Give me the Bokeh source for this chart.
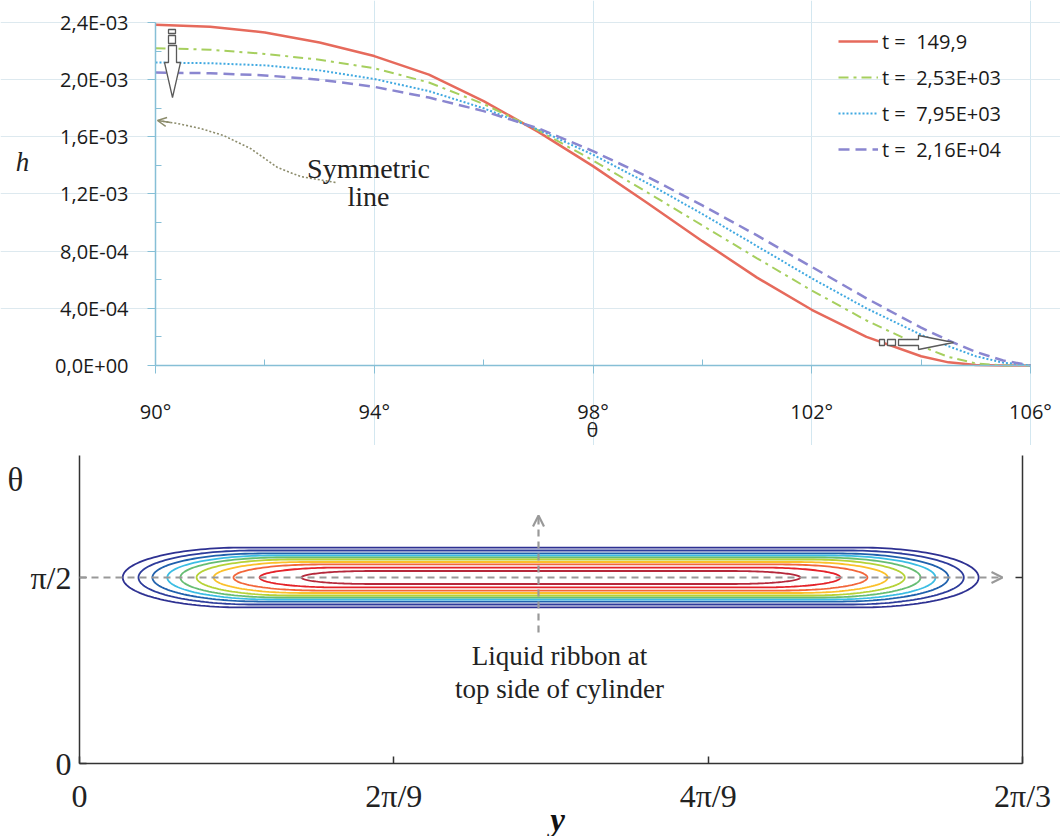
import numpy as np
from bokeh.plotting import figure
from bokeh.layouts import column
from bokeh.models import (Range1d, FixedTicker, LinearAxis, Label, Legend, LegendItem,
                          Arrow, OpenHead, CustomJSTickFormatter)
from bokeh.embed import file_html
from bokeh.resources import INLINE

# ---------------- data: top chart (h vs theta) ----------------
theta_deg = [90, 91, 92, 93, 94, 95, 96, 97, 98, 99, 100, 101, 102, 103, 104, 104.5, 105, 105.5, 106]
h_t149 = [2.385e-3, 2.37e-3, 2.33e-3, 2.26e-3, 2.165e-3, 2.035e-3, 1.85e-3, 1.635e-3, 1.395e-3, 1.135e-3,
          0.87e-3, 0.615e-3, 0.39e-3, 0.20e-3, 0.065e-3, 0.022e-3, 0.004e-3, 0.0, 0.0]
h_t2530 = [2.22e-3, 2.21e-3, 2.18e-3, 2.14e-3, 2.08e-3, 1.98e-3, 1.83e-3, 1.645e-3, 1.435e-3, 1.21e-3,
           0.98e-3, 0.75e-3, 0.525e-3, 0.315e-3, 0.135e-3, 0.06e-3, 0.015e-3, 0.0, 0.0]
h_t7950 = [2.12e-3, 2.115e-3, 2.10e-3, 2.065e-3, 2.005e-3, 1.92e-3, 1.80e-3, 1.65e-3, 1.475e-3, 1.275e-3,
           1.06e-3, 0.835e-3, 0.61e-3, 0.40e-3, 0.215e-3, 0.135e-3, 0.065e-3, 0.02e-3, 0.0]
h_t21600 = [2.05e-3, 2.045e-3, 2.03e-3, 2.0e-3, 1.95e-3, 1.875e-3, 1.78e-3, 1.66e-3, 1.50e-3, 1.32e-3,
            1.12e-3, 0.91e-3, 0.69e-3, 0.47e-3, 0.265e-3, 0.175e-3, 0.095e-3, 0.035e-3, 0.0]
series_labels = ["t =  149,9", "t =  2,53E+03", "t =  7,95E+03", "t =  2,16E+04"]

x_ticks = [90, 94, 98, 102, 106]
x_minor = [92, 96, 100, 104]
x_tick_labels = ["90°", "94°", "98°", "102°", "106°"]
h_ticks = [0.0, 0.0004, 0.0008, 0.0012, 0.0016, 0.002, 0.0024]
h_minor = [0.0002, 0.0006, 0.001, 0.0014, 0.0018, 0.0022]
h_tick_labels = ["0,0E+00", "4,0E-04", "8,0E-04", "1,2E-03", "1,6E-03", "2,0E-03", "2,4E-03"]

# ---------------- data: bottom chart (contours of the ribbon) ----------------
PI = np.pi
y_ticks = [0, 2 * PI / 9, 4 * PI / 9, 2 * PI / 3]
y_tick_labels = ["0", "2π/9", "4π/9", "2π/3"]
th_ticks = [0, PI / 2]
th_tick_labels = ["0", "π/2"]
# contour levels, outer -> inner: left end, right end (y, rad), half-height (theta, rad), cap length (rad)
ribbon_left = [0.096, 0.131, 0.162, 0.195, 0.224, 0.260, 0.298, 0.342, 0.400, 0.493]
ribbon_right = [1.997, 1.964, 1.930, 1.901, 1.868, 1.833, 1.795, 1.750, 1.690, 1.601]
ribbon_half = [0.253, 0.228, 0.203, 0.186, 0.169, 0.152, 0.131, 0.110, 0.084, 0.055]
ribbon_cap = [0.267, 0.255, 0.244, 0.233, 0.222, 0.211, 0.200, 0.189, 0.178, 0.155]
ribbon_colors = ["#2e3192", "#2d3c9b", "#2061ad", "#3bbde3", "#66bd73",
                 "#b6d236", "#fbc02a", "#f2663a", "#e42229", "#b5283b"]

# ---------------- layout geometry (page pixels) ----------------
W = 1060
H1 = 445
H2 = 391
TX0, TX_PER_DEG = 155.0, 54.6875        # 90 deg at x=155, 106 deg at x=1030
TY0, TY_PER_UNIT = 365.0, 142916.7      # h=0 at y=365, 2.4e-3 at y=22
BX0, BX_PER_RAD = 79.0, 943.0 / (2 * PI / 3)
BY0, BY_PER_RAD = 763.0, 186.0 / (PI / 2)


def tx(px):
    return 90 + (px - TX0) / TX_PER_DEG


def ty(py):
    return (TY0 - py) / TY_PER_UNIT


def bx(px):
    return (px - BX0) / BX_PER_RAD


def by(py):
    return (BY0 - py) / BY_PER_RAD


# ---------------- top figure ----------------
top = figure(width=W, height=H1, x_range=Range1d(tx(0), tx(W)), y_range=Range1d(ty(H1), ty(0)),
             output_backend="svg", toolbar_location=None,
             min_border_left=0, min_border_right=0, min_border_top=0, min_border_bottom=0)
top.outline_line_color = None
top.background_fill_color = "white"
top.border_fill_color = "white"

axis_blue = "#86bfd6"
top.xaxis.fixed_location = 0
top.xaxis.bounds = (90, 106)
top.yaxis.fixed_location = 90
top.yaxis.bounds = (0, 0.0024)
top.xaxis.ticker = FixedTicker(ticks=x_ticks, minor_ticks=x_minor)
top.xaxis.major_label_overrides = dict(zip(x_ticks, x_tick_labels))
top.yaxis.ticker = FixedTicker(ticks=h_ticks, minor_ticks=h_minor)
top.yaxis.major_label_overrides = dict(zip(h_ticks, h_tick_labels))
for ax in (top.xaxis[0], top.yaxis[0]):
    ax.axis_line_color = axis_blue
    ax.axis_line_width = 1.5
    ax.major_tick_line_color = axis_blue
    ax.minor_tick_line_color = axis_blue
    ax.major_tick_out = 8
    ax.major_tick_in = 0
    ax.minor_tick_in = 6
    ax.minor_tick_out = 0
    ax.major_label_text_font = "Open Sans"
    ax.major_label_text_font_size = "20px"
    ax.major_label_text_color = "#1a1a1a"
top.xaxis.major_label_standoff = 24
top.yaxis.major_label_standoff = 19
top.xgrid.ticker = FixedTicker(ticks=x_ticks[1:])
top.xgrid.bounds = (0, 0.0024)
top.ygrid.ticker = FixedTicker(ticks=h_ticks[1:])
top.ygrid.bounds = (90, 106)
top.xgrid.grid_line_color = "#d3e7f0"
top.ygrid.grid_line_color = "#dde9ef"

r1 = top.line(theta_deg, h_t149, line_color="#e66a5c", line_width=2.5)
r2 = top.line(theta_deg, h_t2530, line_color="#a6cf5e", line_width=2, line_dash="10 5 3 5")
r3 = top.line(theta_deg, h_t7950, line_color="#41a9e1", line_width=2, line_dash="2 2")
r4 = top.line(theta_deg, h_t21600, line_color="#8a86d0", line_width=2.5, line_dash="11 6")

legend = Legend(items=[LegendItem(label=lab, renderers=[r]) for lab, r in
                       zip(series_labels, [r1, r2, r3, r4])],
                location=(838, H1 - 167), padding=0, margin=0, spacing=0,
                label_height=36, glyph_height=36, glyph_width=40, label_standoff=4,
                label_text_font="Open Sans", label_text_font_size="20px",
                label_text_color="#1a1a1a", border_line_color=None, background_fill_alpha=0)
top.add_layout(legend)

ann_col = "#5a5a5a"
top.quad(left=[tx(168), tx(168)], right=[tx(175), tx(175)], top=[ty(29), ty(35)], bottom=[ty(33), ty(43)],
         fill_color="white", line_color=ann_col, line_width=1.3)
top.patch([tx(168), tx(176), tx(176), tx(180), tx(172), tx(164), tx(168)],
          [ty(45), ty(45), ty(62), ty(62), ty(97), ty(62), ty(62)],
          fill_color="white", line_color=ann_col, line_width=1.3)
top.quad(left=[tx(879), tx(887)], right=[tx(884), tx(895)], top=[ty(339), ty(339)], bottom=[ty(345), ty(345)],
         fill_color="white", line_color=ann_col, line_width=1.3)
top.patch([tx(898), tx(918), tx(918), tx(953), tx(918), tx(918), tx(898)],
          [ty(339), ty(339), ty(335), ty(342), ty(349), ty(345), ty(345)],
          fill_color="white", line_color=ann_col, line_width=1.3)

cx_px = [335, 300, 277, 250, 223, 200, 177, 157]
cy_px = [182, 176, 167, 148, 135, 128, 123, 120]
top.line([tx(v) for v in cx_px], [ty(v) for v in cy_px], line_color="#8c8c6c", line_width=1.6, line_dash="2 2")
top.add_layout(Arrow(x_start=tx(170), y_start=ty(122), x_end=tx(157), y_end=ty(120),
                     line_color="#8c8c6c", line_width=1.5,
                     end=OpenHead(size=9, line_color="#8c8c6c", line_width=1.5)))
for txt, py in (("Symmetric", 168), ("line", 196)):
    top.add_layout(Label(x=tx(368), y=ty(py), text=txt, text_align="center", text_baseline="middle",
                         text_font="Liberation Serif", text_font_size="28px", text_color="#222222"))
top.add_layout(Label(x=tx(22), y=ty(161), text="h", text_align="center", text_baseline="middle",
                     text_font="Liberation Serif", text_font_style="italic", text_font_size="27px",
                     text_color="#222222"))
top.add_layout(Label(x=tx(592), y=ty(429), text="θ", text_align="center", text_baseline="middle",
                     text_font="Open Sans", text_font_size="20px", text_color="#222222"))

# ---------------- bottom figure ----------------
# bottom figure's own pixel rows start at page y = H1
bot = figure(width=W, height=H2, x_range=Range1d(bx(0), bx(W)), y_range=Range1d(by(H1 + H2), by(H1)),
             output_backend="svg", toolbar_location=None,
             min_border_left=0, min_border_right=0, min_border_top=0, min_border_bottom=0)
bot.outline_line_color = None
bot.grid.visible = False
bot.xaxis.fixed_location = 0
bot.xaxis.bounds = (0, 2 * PI / 3)
bot.yaxis.fixed_location = 0
bot.yaxis.bounds = (0, by(455))
bot.xaxis.ticker = FixedTicker(ticks=y_ticks)
bot.xaxis.major_label_overrides = dict(zip(y_ticks, y_tick_labels))
bot.yaxis.ticker = FixedTicker(ticks=th_ticks)
bot.yaxis.major_label_overrides = dict(zip(th_ticks, th_tick_labels))
raxis = LinearAxis(ticker=FixedTicker(ticks=[PI / 2]), formatter=CustomJSTickFormatter(code="return ''"),
                   fixed_location=2 * PI / 3, bounds=(0, by(455)))
bot.add_layout(raxis, "right")
for ax in (bot.xaxis[0], bot.yaxis[0], raxis):
    ax.axis_line_color = "#333333"
    ax.axis_line_width = 1.5
    ax.major_tick_line_color = "#333333"
    ax.major_tick_line_width = 1.5
    ax.major_tick_in = 7
    ax.major_tick_out = 0
    ax.minor_tick_line_color = None
for ax in (bot.xaxis[0], bot.yaxis[0]):
    ax.major_label_text_font = "Liberation Serif"
    ax.major_label_text_font_size = "32px"
    ax.major_label_text_color = "#222222"
bot.xaxis.major_label_standoff = 14
bot.yaxis.major_label_standoff = 8


def stadium(left, right, half, cap, yc, n=80):
    c = (left + right) / 2.0
    f = (right - left) / 2.0 - cap
    phi = np.linspace(-np.pi / 2, np.pi / 2, n)
    xr = c + f + cap * np.cos(phi)
    yr = yc + half * np.sin(phi)
    phi2 = np.linspace(np.pi / 2, 3 * np.pi / 2, n)
    xl = c - f + cap * np.cos(phi2)
    yl = yc + half * np.sin(phi2)
    return list(np.concatenate([xr, xl, xr[:1]])), list(np.concatenate([yr, yl, yr[:1]]))


xs, ys = [], []
for l, r, hh, cp in zip(ribbon_left, ribbon_right, ribbon_half, ribbon_cap):
    a, b = stadium(l, r, hh, cp, PI / 2)
    xs.append(a)
    ys.append(b)
bot.multi_line(xs, ys, line_color=ribbon_colors, line_width=1.8)

gray = "#999999"
bot.add_layout(Arrow(x_start=0, y_start=PI / 2, x_end=bx(1002), y_end=PI / 2, line_color=gray, line_width=2.2,
                     line_dash="7 5", end=OpenHead(size=11, line_color=gray, line_width=2.2)))
bot.add_layout(Arrow(x_start=bx(538), y_start=by(632), x_end=bx(538), y_end=by(515), line_color=gray,
                     line_width=2.2, line_dash="7 5", end=OpenHead(size=11, line_color=gray, line_width=2.2)))

for txt, py in (("Liquid ribbon at", 655), ("top side of cylinder", 688)):
    bot.add_layout(Label(x=bx(559), y=by(py), text=txt, text_align="center", text_baseline="middle",
                         text_font="Liberation Serif", text_font_size="27px", text_color="#222222"))
bot.add_layout(Label(x=bx(15), y=by(479), text="θ", text_align="center", text_baseline="middle",
                     text_font="Liberation Serif", text_font_size="33px", text_color="#222222"))
bot.add_layout(Label(x=bx(557), y=by(819), text="y", text_align="center", text_baseline="middle",
                     text_font="Liberation Serif", text_font_style="bold italic", text_font_size="33px",
                     text_color="#111111"))

open("out.html", "w").write(file_html(column(top, bot, spacing=0), INLINE))
